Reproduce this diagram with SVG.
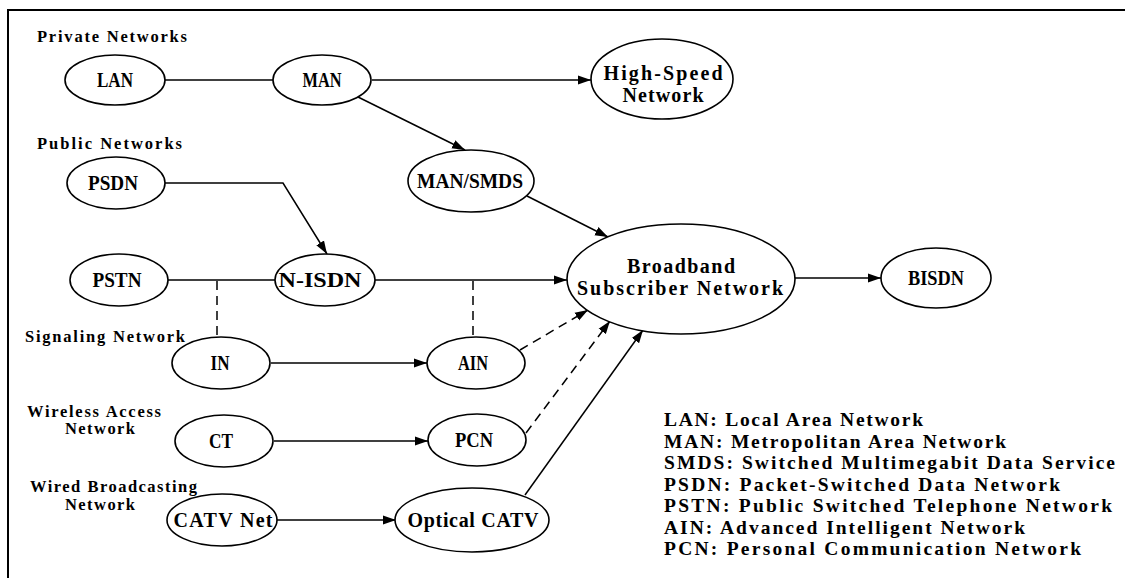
<svg xmlns="http://www.w3.org/2000/svg" width="1125" height="578" viewBox="0 0 1125 578">
<style>
.n ellipse{fill:#fff;stroke:#000;stroke-width:1.6}
.n text{font-family:"Liberation Serif",serif;font-size:20px;font-weight:bold;text-anchor:middle;fill:#000}
.c path{fill:none;stroke:#000;stroke-width:1.5}
.c .d{stroke-dasharray:9 6}
.lbl{font-family:"Liberation Serif",serif;font-size:16.5px;font-weight:bold;fill:#000}
.leg{font-family:"Liberation Serif",serif;font-size:19.5px;font-weight:bold;fill:#000}
</style>
<defs>
<marker id="ah" markerUnits="userSpaceOnUse" markerWidth="14" markerHeight="10" refX="13" refY="5" orient="auto">
<path d="M0,0.5 L13,5 L0,9.5 Z" fill="#000"/>
</marker>
</defs>
<rect width="1125" height="578" fill="#fff"/>
<path d="M8,578 V10 H1125" fill="none" stroke="#000" stroke-width="2"/>

<g id="group-labels">
<text class="lbl" x="37" y="42" textLength="150" lengthAdjust="spacing">Private Networks</text>
<text class="lbl" x="37" y="149" textLength="145" lengthAdjust="spacing">Public Networks</text>
<text class="lbl" x="25" y="342" textLength="160" lengthAdjust="spacing">Signaling Network</text>
<text class="lbl" x="27" y="417" textLength="134" lengthAdjust="spacing">Wireless Access</text>
<text class="lbl" x="65" y="434" textLength="70" lengthAdjust="spacing">Network</text>
<text class="lbl" x="30" y="492" textLength="167" lengthAdjust="spacing">Wired Broadcasting</text>
<text class="lbl" x="65" y="510" textLength="70" lengthAdjust="spacing">Network</text>
</g>

<g id="connectors" class="c">
<path d="M165,80 H273"/>
<path d="M372,80 H591" marker-end="url(#ah)"/>
<path d="M358,97 L465,150" marker-end="url(#ah)"/>
<path d="M165,183 H283 L327,254" marker-end="url(#ah)"/>
<path d="M168,280 H275"/>
<path d="M375,280 H567" marker-end="url(#ah)"/>
<path class="d" d="M217,281 V338"/>
<path class="d" d="M473,281 V337"/>
<path d="M271,363 H427" marker-end="url(#ah)"/>
<path class="d" d="M520,350 L588,310" marker-end="url(#ah)"/>
<path class="d" d="M526,433 L610,321" marker-end="url(#ah)"/>
<path d="M525,495 L643,330" marker-end="url(#ah)"/>
<path d="M527,196 L608,237" marker-end="url(#ah)"/>
<path d="M795,278 H881" marker-end="url(#ah)"/>
<path d="M274,441 H428" marker-end="url(#ah)"/>
<path d="M277,520 H396" marker-end="url(#ah)"/>
</g>

<g id="node-lan" class="n"><ellipse cx="115" cy="80" rx="50" ry="25"/><text x="115" y="87" textLength="36" lengthAdjust="spacingAndGlyphs">LAN</text></g>
<g id="node-man" class="n"><ellipse cx="322" cy="80" rx="49" ry="25"/><text x="322" y="87" textLength="39" lengthAdjust="spacingAndGlyphs">MAN</text></g>
<g id="node-highspeed" class="n"><ellipse cx="662" cy="79" rx="71" ry="40"/><text x="663" y="80" textLength="119" lengthAdjust="spacing">High-Speed</text><text x="663" y="102" textLength="81" lengthAdjust="spacing">Network</text></g>
<g id="node-mansmds" class="n"><ellipse cx="471" cy="181" rx="63" ry="31"/><text x="470" y="188" textLength="106" lengthAdjust="spacingAndGlyphs">MAN/SMDS</text></g>
<g id="node-psdn" class="n"><ellipse cx="116" cy="183" rx="49" ry="26"/><text x="113" y="190" textLength="50" lengthAdjust="spacingAndGlyphs">PSDN</text></g>
<g id="node-pstn" class="n"><ellipse cx="119" cy="280" rx="49" ry="26"/><text x="117" y="287" textLength="49" lengthAdjust="spacingAndGlyphs">PSTN</text></g>
<g id="node-nisdn" class="n"><ellipse cx="325" cy="280" rx="50" ry="26"/><text x="320" y="287" textLength="83" lengthAdjust="spacingAndGlyphs">N-ISDN</text></g>
<g id="node-bsn" class="n"><ellipse cx="681" cy="279" rx="114" ry="55"/><text x="681" y="273" textLength="108" lengthAdjust="spacing">Broadband</text><text x="680" y="295" textLength="206" lengthAdjust="spacing">Subscriber Network</text></g>
<g id="node-bisdn" class="n"><ellipse cx="936" cy="278" rx="55" ry="30"/><text x="936" y="285" textLength="56" lengthAdjust="spacingAndGlyphs">BISDN</text></g>
<g id="node-in" class="n"><ellipse cx="221" cy="363" rx="49" ry="26"/><text x="220" y="370" textLength="19" lengthAdjust="spacingAndGlyphs">IN</text></g>
<g id="node-ain" class="n"><ellipse cx="476" cy="363" rx="49" ry="26"/><text x="473" y="370" textLength="30" lengthAdjust="spacingAndGlyphs">AIN</text></g>
<g id="node-ct" class="n"><ellipse cx="224" cy="441" rx="49" ry="26"/><text x="221" y="448" textLength="24" lengthAdjust="spacingAndGlyphs">CT</text></g>
<g id="node-pcn" class="n"><ellipse cx="477" cy="440" rx="49" ry="26"/><text x="474" y="447" textLength="38" lengthAdjust="spacingAndGlyphs">PCN</text></g>
<g id="node-catvnet" class="n"><ellipse cx="222" cy="520" rx="55" ry="26"/><text x="223" y="527" textLength="99" lengthAdjust="spacing">CATV Net</text></g>
<g id="node-opticalcatv" class="n"><ellipse cx="472" cy="520" rx="77" ry="32"/><text x="473" y="527" textLength="131" lengthAdjust="spacing">Optical CATV</text></g>

<g id="legend">
<text class="leg" x="664" y="426" textLength="259" lengthAdjust="spacing">LAN: Local Area Network</text>
<text class="leg" x="664" y="447.5" textLength="342" lengthAdjust="spacing">MAN: Metropolitan Area Network</text>
<text class="leg" x="664" y="469" textLength="451" lengthAdjust="spacing">SMDS: Switched Multimegabit Data Service</text>
<text class="leg" x="664" y="490.5" textLength="396" lengthAdjust="spacing">PSDN: Packet-Switched Data Network</text>
<text class="leg" x="664" y="512" textLength="448" lengthAdjust="spacing">PSTN: Public Switched Telephone Network</text>
<text class="leg" x="664" y="533.5" textLength="361" lengthAdjust="spacing">AIN: Advanced Intelligent Network</text>
<text class="leg" x="664" y="555" textLength="417" lengthAdjust="spacing">PCN: Personal Communication Network</text>
</g>
</svg>
